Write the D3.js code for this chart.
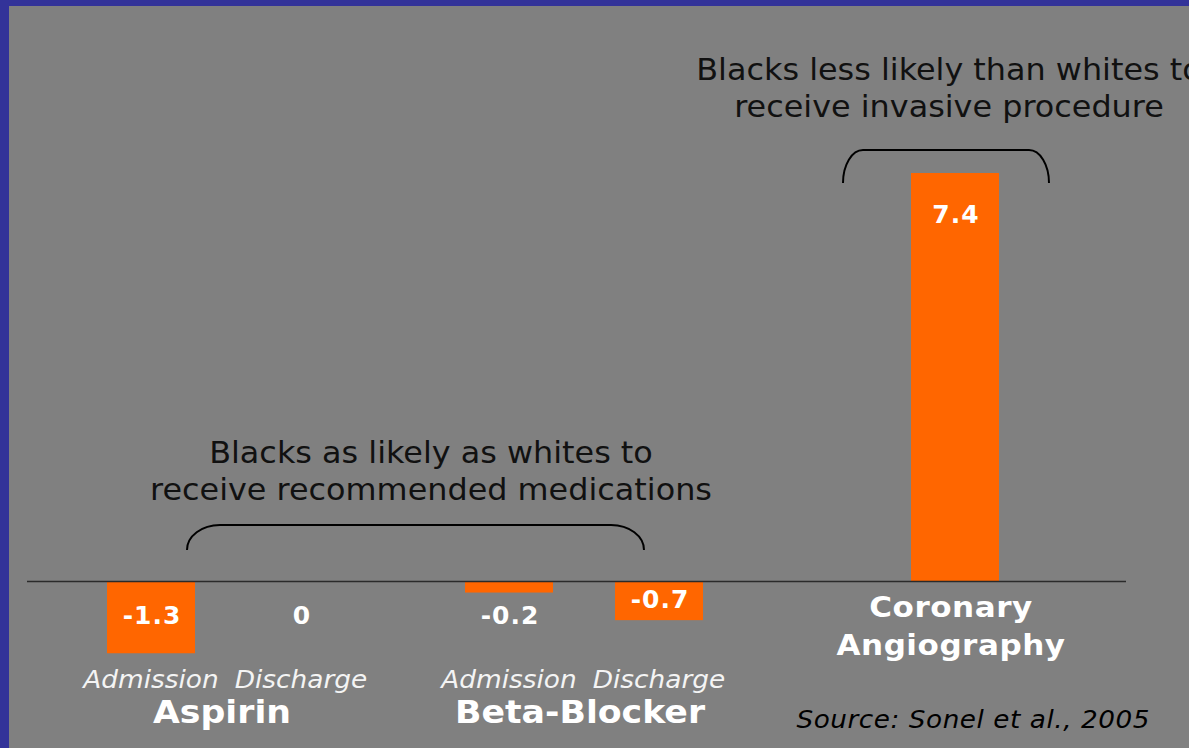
<!DOCTYPE html>
<html>
<head>
<meta charset="utf-8">
<script src="https://cdn.jsdelivr.net/npm/d3@7"></script>
<style>
  html, body { margin: 0; padding: 0; background: #808080; }
  svg { display: block; }
  text { font-family: "DejaVu Sans", Verdana, sans-serif; }
</style>
</head>
<body>
<svg id="chart" width="1189" height="748"></svg>
<script>
// ---- data ----
const groups = ["Aspirin", "Beta-Blocker", "Coronary Angiography"];
const subgroups = ["Admission", "Discharge"];
const aspirinValues = [-1.3, 0];
const betaBlockerValues = [-0.2, -0.7];
const angiographyValues = [7.4];
const valueLabels = ["-1.3", "0", "-0.2", "-0.7", "7.4"];
const groupLabels = [["Aspirin"], ["Beta-Blocker"], ["Coronary", "Angiography"]];
const annotationLow = ["Blacks as likely as whites to", "receive recommended medications"];
const annotationHigh = ["Blacks less likely than whites to", "receive invasive procedure"];
const sourceText = "Source: Sonel et al., 2005";

// ---- layout ----
const W = 1189, H = 748;
const svg = d3.select("#chart");
const ORANGE = "#FF6600", BLUE = "#333399", BG = "#808080";

svg.append("rect").attr("width", W).attr("height", H).attr("fill", BG);
svg.append("rect").attr("x", 0).attr("y", 0).attr("width", 9).attr("height", H).attr("fill", BLUE);
svg.append("rect").attr("x", 0).attr("y", 0).attr("width", W).attr("height", 6).attr("fill", BLUE);

// text helper: slightly wide-set type, like the original slide
function txt(parent, x, y, str, o) {
  const t = parent.append("text")
    .attr("transform", `translate(${x},${y}) scale(${o.sx || 1.07},1)`)
    .attr("text-anchor", o.anchor || "middle")
    .attr("fill", o.fill || "#ffffff")
    .attr("font-size", o.size)
    .text(str);
  if (o.bold) t.attr("font-weight", "bold");
  if (o.italic) t.attr("font-style", "italic");
  if (o.ls) t.attr("letter-spacing", o.ls);
  return t;
}

const x0 = d3.scaleOrdinal().domain(groups).range([226, 584, 955]);
const x1 = d3.scaleBand().domain(subgroups).range([-150, 150]).padding(0);
const y = d3.scaleLinear().domain([0, 7.4]).range([581.5, 173]);
const barW = 88;

// build bar records
const bars = [];
aspirinValues.forEach((v, i) => bars.push({ g: groups[0], s: subgroups[i], v }));
betaBlockerValues.forEach((v, i) => bars.push({ g: groups[1], s: subgroups[i], v }));
angiographyValues.forEach(v => bars.push({ g: groups[2], s: null, v }));
bars.forEach((b, i) => {
  b.cx = x0(b.g) + (b.s ? x1(b.s) + x1.bandwidth() / 2 : 0);
  b.label = valueLabels[i];
});

// bars
svg.append("g").selectAll("rect").data(bars.filter(b => b.v !== 0)).join("rect")
  .attr("x", d => d.cx - barW / 2)
  .attr("y", d => Math.min(y(d.v), y(0)))
  .attr("width", barW)
  .attr("height", d => Math.abs(y(d.v) - y(0)))
  .attr("fill", ORANGE);

// zero line
svg.append("line")
  .attr("x1", 27).attr("x2", 1126)
  .attr("y1", y(0)).attr("y2", y(0))
  .attr("stroke", "#2a2a2a").attr("stroke-width", 1.6);

// value labels
const valG = svg.append("g");
bars.forEach(d => {
  const h = Math.abs(y(d.v) - y(0));
  let ty;
  if (d.v > 0) ty = y(d.v) + 50;
  else if (h >= 30) ty = y(d.v / 2) + 7;
  else ty = y(0) + 42.5;
  txt(valG, d.cx + 1, ty, d.label, { size: 24, bold: true, ls: 1, sx: 1.04 });
});

// sub-labels
const subG = svg.append("g");
groups.slice(0, 2).forEach(g => {
  subgroups.forEach(s => {
    txt(subG, x0(g) + x1(s) + x1.bandwidth() / 2, 688, s,
      { size: 25, italic: true, fill: "#f4f4f4", sx: 1.055 });
  });
});

// group labels
groupLabels.forEach((lines, i) => {
  const cx = x0(groups[i]) - 4;
  if (lines.length === 1) {
    txt(svg, cx, 723, lines[0], { size: 32, bold: true, sx: 1.085 });
  } else {
    lines.forEach((t, k) => {
      txt(svg, cx, 617 + k * 37.5, t, { size: 29, bold: true, ls: 0.5, sx: 1.07 });
    });
  }
});

// annotations
function annot(lines, cx, y0) {
  lines.forEach((t, k) => {
    txt(svg, cx, y0 + k * 37, t, { size: 30, fill: "#111111", sx: 1.062 });
  });
}
annot(annotationLow, 431, 463);
annot(annotationHigh, 949, 80);

// braces
const braceLow = { x1: 187, x2: 644, yTop: 525, yEnd: 550, rx: 33 };
const braceHigh = { x1: 843, x2: 1049, yTop: 150, yEnd: 183, rx: 20 };
[braceLow, braceHigh].forEach(b => {
  const ry = b.yEnd - b.yTop;
  svg.append("path")
    .attr("d", `M${b.x1},${b.yEnd} A${b.rx},${ry} 0 0 1 ${b.x1 + b.rx},${b.yTop} L${b.x2 - b.rx},${b.yTop} A${b.rx},${ry} 0 0 1 ${b.x2},${b.yEnd}`)
    .attr("fill", "none").attr("stroke", "#000").attr("stroke-width", 2);
});

// source
txt(svg, 1150, 728, sourceText, { size: 24, italic: true, fill: "#000", anchor: "end", ls: 0.5, sx: 1.095 });
</script>
</body>
</html>
